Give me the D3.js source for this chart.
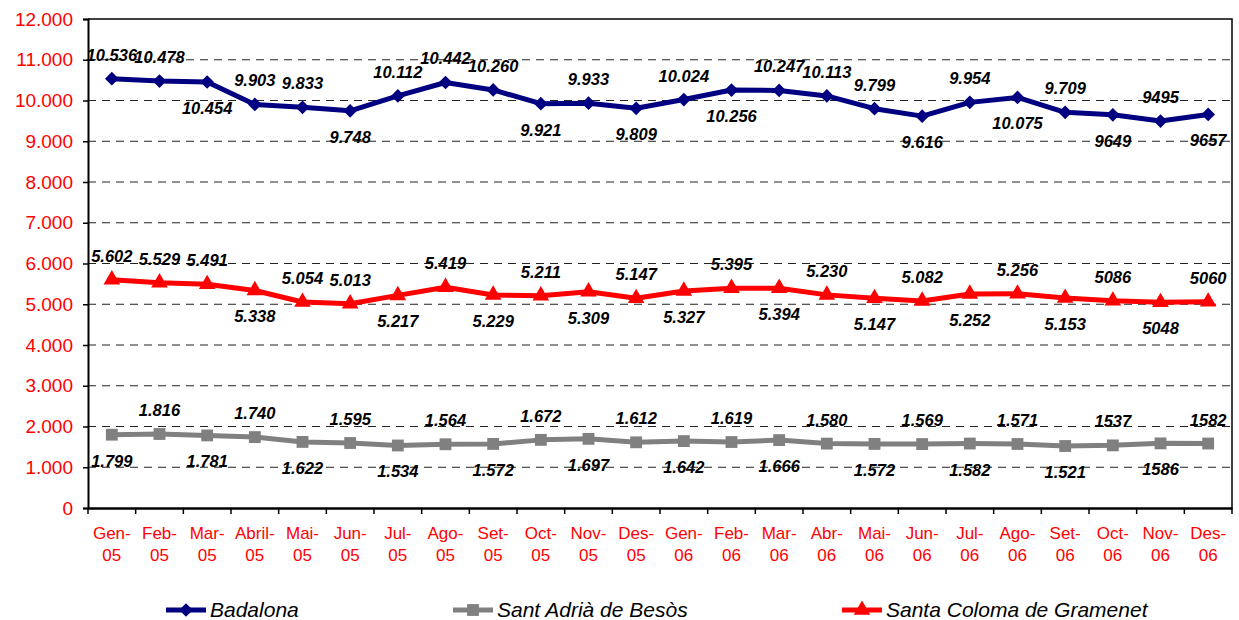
<!DOCTYPE html>
<html>
<head>
<meta charset="utf-8">
<script src="https://cdn.jsdelivr.net/npm/d3@7"></script>
<style>
  body { margin: 0; background: #fff; }
  text { font-family: "Liberation Sans", Arial, sans-serif; }
</style>
</head>
<body>
<div id="chart"></div>
<script>
// data
const months = ['Gen-05', 'Feb-05', 'Mar-05', 'Abril-05', 'Mai-05', 'Jun-05', 'Jul-05', 'Ago-05', 'Set-05', 'Oct-05', 'Nov-05', 'Des-05',
  'Gen-06', 'Feb-06', 'Mar-06', 'Abr-06', 'Mai-06', 'Jun-06', 'Jul-06', 'Ago-06', 'Set-06', 'Oct-06', 'Nov-06', 'Des-06']
const yTicks = [0, 1000, 2000, 3000, 4000, 5000, 6000, 7000, 8000, 9000, 10000, 11000, 12000]

const badalona = [10536, 10478, 10454, 9903, 9833, 9748, 10112, 10442, 10260, 9921, 9933, 9809,
  10024, 10256, 10247, 10113, 9799, 9616, 9954, 10075, 9709, 9649, 9495, 9657]
const badalonaLabels = ['10.536', '10.478', '10.454', '9.903', '9.833', '9.748', '10.112', '10.442', '10.260', '9.921', '9.933', '9.809',
  '10.024', '10.256', '10.247', '10.113', '9.799', '9.616', '9.954', '10.075', '9.709', '9649', '9495', '9657']
const badalonaSide = 'aabaabaaabab' + 'abaaabababab'

const santAdria = [1799, 1816, 1781, 1740, 1622, 1595, 1534, 1564, 1572, 1672, 1697, 1612,
  1642, 1619, 1666, 1580, 1572, 1569, 1582, 1571, 1521, 1537, 1586, 1582]
const santAdriaLabels = ['1.799', '1.816', '1.781', '1.740', '1.622', '1.595', '1.534', '1.564', '1.572', '1.672', '1.697', '1.612',
  '1.642', '1.619', '1.666', '1.580', '1.572', '1.569', '1.582', '1.571', '1.521', '1537', '1586', '1582']
const santAdriaSide = 'babababababa' + 'babababababa'

const santaColoma = [5602, 5529, 5491, 5338, 5054, 5013, 5217, 5419, 5229, 5211, 5309, 5147,
  5327, 5395, 5394, 5230, 5147, 5082, 5252, 5256, 5153, 5086, 5048, 5060]
const santaColomaLabels = ['5.602', '5.529', '5.491', '5.338', '5.054', '5.013', '5.217', '5.419', '5.229', '5.211', '5.309', '5.147',
  '5.327', '5.395', '5.394', '5.230', '5.147', '5.082', '5.252', '5.256', '5.153', '5086', '5048', '5060']
const santaColomaSide = 'aaabaabababa' + 'bababababab' + 'a'

const series = [
  { name: 'Badalona', values: badalona, labels: badalonaLabels, side: badalonaSide, color: '#000080', symbol: d3.symbolDiamond2 },
  { name: 'Sant Adrià de Besòs', values: santAdria, labels: santAdriaLabels, side: santAdriaSide, color: '#808080', symbol: d3.symbolSquare },
  { name: 'Santa Coloma de Gramenet', values: santaColoma, labels: santaColomaLabels, side: santaColomaSide, color: '#ff0000', symbol: d3.symbolTriangle }
]

// sizes
const width = 1239
const height = 620
const margin = { top: 19, right: 7, bottom: 112, left: 88 }
const plotW = width - margin.left - margin.right
const plotH = height - margin.top - margin.bottom

const svg = d3.select('#chart')
  .append('svg')
  .attr('width', width)
  .attr('height', height)

const g = svg.append('g')
  .attr('transform', `translate(${margin.left},${margin.top})`)

// scales
const x = d3.scaleBand().domain(months).range([0, plotW])
const y = d3.scaleLinear().domain([0, 12000]).range([plotH, 0])
const cx = d => x(d) + x.bandwidth() / 2

// grid
g.append('g')
  .selectAll('line')
  .data(yTicks.filter(v => v > 0 && v < 12000))
  .enter().append('line')
  .attr('x1', 0)
  .attr('x2', plotW)
  .attr('y1', d => y(d))
  .attr('y2', d => y(d))
  .attr('stroke', '#222')
  .attr('stroke-width', 1)
  .attr('stroke-dasharray', '8,6')

// frame (top + right)
g.append('path')
  .attr('d', `M0,0H${plotW}V${plotH}`)
  .attr('fill', 'none')
  .attr('stroke', '#000')
  .attr('stroke-width', 1.5)

// y axis
const yAxis = g.append('g')
  .call(d3.axisLeft(y).tickValues(yTicks).tickSize(5).tickPadding(10)
    .tickFormat(d => d === 0 ? '0' : d3.format(',')(d).replace(/,/g, '.')))
yAxis.select('.domain').attr('stroke', '#000').attr('stroke-width', 2)
yAxis.selectAll('.tick line').attr('stroke', '#000').attr('stroke-width', 1.5)
yAxis.selectAll('text')
  .attr('fill', '#ff0000')
  .style('font-size', '19px')
  .style('font-family', '"Liberation Sans", Arial, sans-serif')

// x axis
const xAxis = g.append('g')
  .attr('transform', `translate(0,${plotH})`)
  .call(d3.axisBottom(x).tickSize(0).tickFormat(''))
xAxis.select('.domain').attr('stroke', '#000').attr('stroke-width', 2.5)

g.append('g')
  .selectAll('line')
  .data(months.concat(['end']))
  .enter().append('line')
  .attr('x1', (d, i) => i < months.length ? x(d) : plotW)
  .attr('x2', (d, i) => i < months.length ? x(d) : plotW)
  .attr('y1', plotH)
  .attr('y2', plotH + 6)
  .attr('stroke', '#000')
  .attr('stroke-width', 1.5)

const xl = g.append('g')
  .selectAll('text')
  .data(months)
  .enter().append('text')
  .attr('x', d => cx(d))
  .attr('y', plotH + 31)
  .attr('text-anchor', 'middle')
  .attr('fill', '#ff0000')
  .style('font-size', '17px')
xl.append('tspan').attr('x', d => cx(d)).text(d => d.split('-')[0] + '-')
xl.append('tspan').attr('x', d => cx(d)).attr('dy', 22).text(d => d.split('-')[1])

// lines
const line = d3.line().x((d, i) => cx(months[i])).y(d => y(d))

series.forEach(s => {
  const sg = g.append('g')
  sg.append('path')
    .datum(s.values)
    .attr('d', line)
    .attr('fill', 'none')
    .attr('stroke', s.color)
    .attr('stroke-width', 5)
    .attr('stroke-linejoin', 'round')

  sg.selectAll('path.mk')
    .data(s.values)
    .enter().append('path')
    .attr('class', 'mk')
    .attr('transform', (d, i) => `translate(${cx(months[i])},${y(d)})`)
    .attr('d', d3.symbol().type(s.symbol).size(s.symbol === d3.symbolSquare ? 140 : 120))
    .attr('fill', s.color)

  sg.selectAll('text')
    .data(s.values)
    .enter().append('text')
    .attr('x', (d, i) => cx(months[i]))
    .attr('y', (d, i) => y(d) + (s.side[i] === 'a' ? -18 : 32))
    .attr('text-anchor', 'middle')
    .style('font-size', '16.5px')
    .style('font-weight', 'bold')
    .style('font-style', 'italic')
    .attr('fill', '#000')
    .text((d, i) => s.labels[i])
})

// legend
const legendX = [166, 453, 842]
const legend = svg.append('g')
  .selectAll('g')
  .data(series)
  .enter().append('g')
  .attr('transform', (d, i) => `translate(${legendX[i]},610)`)

legend.append('line')
  .attr('x1', 0).attr('x2', 40)
  .attr('y1', 0).attr('y2', 0)
  .attr('stroke', d => d.color)
  .attr('stroke-width', 5)
legend.append('path')
  .attr('transform', 'translate(20,0)')
  .attr('d', d => d3.symbol().type(d.symbol).size(d.symbol === d3.symbolSquare ? 140 : 120)())
  .attr('fill', d => d.color)
legend.append('text')
  .attr('x', 44)
  .attr('y', 7)
  .style('font-size', '21px')
  .style('font-style', 'italic')
  .attr('fill', '#000')
  .text(d => d.name)
</script>
</body>
</html>
